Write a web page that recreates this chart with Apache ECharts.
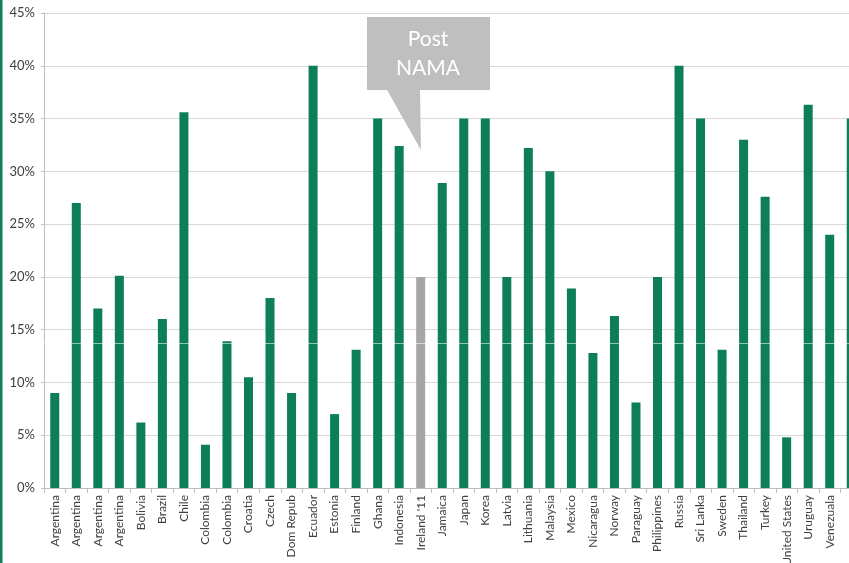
<!DOCTYPE html>
<html>
<head>
<meta charset="utf-8">
<script src="https://cdn.jsdelivr.net/npm/echarts@6/dist/echarts.min.js"></script>
<style>html,body{margin:0;padding:0;background:#fff;}#c{width:849px;height:563px;}</style>
</head>
<body>
<div id="c"></div>
<script>
const categories = ["Argentina","Argentina","Argentina","Argentina","Bolivia","Brazil","Chile","Colombia","Colombia","Croatia","Czech","Dom Repub","Ecuador","Estonia","Finland","Ghana","Indonesia","Ireland '11","Jamaica","Japan","Korea","Latvia","Lithuania","Malaysia","Mexico","Nicaragua","Norway","Paraguay","Philippines","Russia","Sri Lanka","Sweden","Thailand","Turkey","United States","Uruguay","Venezuala",""];
const rates = [9,27,17,20.1,6.2,16,35.6,4.1,13.9,10.5,18,9,40,7,13.1,35,32.4,20,28.9,35,35,20,32.2,30,18.9,12.8,16.3,8.1,20,40,35,13.1,33,27.6,4.8,36.3,24,35];
const highlighted = ["Ireland '11"];
const yTicks = {min: 0, max: 45, interval: 5};
const calloutText = "Post\nNAMA";

const chart = echarts.init(document.getElementById('c'), null, {renderer: 'canvas'});
const FONT = 'Lato, "Open Sans", sans-serif';
chart.setOption({
  animation: false,
  backgroundColor: '#fff',
  grid: {left: 44, width: 818, top: 13, bottom: 75, containLabel: false, outerBoundsMode: 'none'},
  xAxis: {
    type: 'category',
    data: categories,
    axisLine: {lineStyle: {color: '#BFBFBF'}},
    axisTick: {show: true, length: 5, lineStyle: {color: '#BFBFBF'}},
    axisLabel: {rotate: 90, interval: 0, margin: 7, color: '#404040', fontSize: 12, fontFamily: FONT},
    splitLine: {show: false}
  },
  yAxis: {
    type: 'value',
    min: yTicks.min, max: yTicks.max, interval: yTicks.interval,
    axisLine: {show: true, lineStyle: {color: '#BFBFBF'}},
    axisTick: {show: true, length: 3, lineStyle: {color: '#BFBFBF'}},
    axisLabel: {formatter: '{value}%', color: '#404040', fontSize: 13, fontFamily: FONT, margin: 9},
    splitLine: {lineStyle: {color: '#D9D9D9', width: 1}}
  },
  series: [{
    type: 'bar',
    data: rates,
    barWidth: 9,
    itemStyle: {
      color: function(p){ return highlighted.indexOf(p.name) >= 0 ? '#A6A6A6' : '#0C7F56'; }
    }
  }],
  graphic: [
    {type: 'rect', left: 0, top: 0, shape: {x: 0, y: 0, width: 2.5, height: 563}, style: {fill: '#0C7F56'}, z: 100},
    {type: 'rect', shape: {x: 3, y: 343, width: 846, height: 1}, style: {fill: '#ffffff', opacity: 0.55}, z: 100},
    {type: 'polygon', shape: {points: [[367,17],[490,17],[490,90],[420,90],[421,150],[387,90],[367,90]]}, style: {fill: '#BFBFBF'}, z: 100},
    {type: 'text', x: 428, y: 54, style: {text: calloutText, fill: '#ffffff', font: '21px ' + FONT, align: 'center', verticalAlign: 'middle', lineHeight: 29}, z: 101}
  ]
});
</script>
</body>
</html>
